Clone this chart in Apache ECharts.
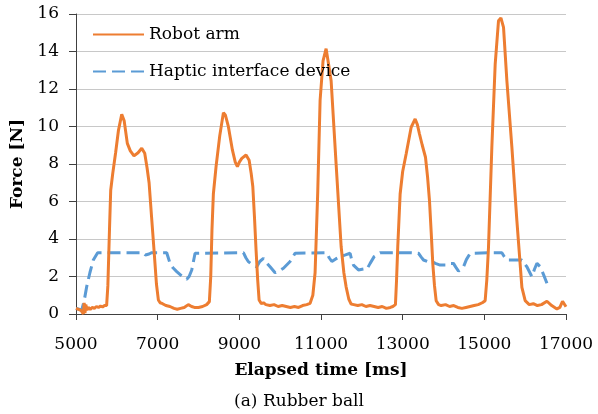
<!DOCTYPE html>
<html><head><meta charset="utf-8">
<script src="https://cdn.jsdelivr.net/npm/echarts@6/dist/echarts.min.js"></script>
<style>html,body{margin:0;padding:0;background:#fff}#c{width:598px;height:414px}</style>
</head><body><div id="c"></div>
<script>
const xTicks = [5000, 7000, 9000, 11000, 13000, 15000, 17000];
const yTicks = [0, 2, 4, 6, 8, 10, 12, 14, 16];
const seriesNames = ['Robot arm', 'Haptic interface device'];

const robotT = [5000,5060,5120,5160,5180,5200,5220,5240,5270,5300,5350,5400,5450,5500,5550,5600,5650,5700,5750,
5780,5820,5850,5900,5970,6040,6120,6180,6257,6330,6420,6520,6610,6683,6740,6790,6850,6911,6970,7017,
7060,7120,7200,7300,7400,7480,7560,7650,7750,7830,7900,8000,8100,8200,
8266,8300,8330,8364,8430,8520,8610,8660,8732,8830,8900,8953,9000,9060,9165,9240,9290,9330,9370,9410,9450,9484,
9540,9590,9650,9750,9850,9950,10050,10150,10250,10350,10450,10550,10650,10733,
10760,10800,10855,10920,10978,11050,11125,11180,11248,11370,11493,11560,11615,11680,11738,
11800,11900,12000,12100,12200,12300,12400,12500,12600,12700,12759,
12823,12850,12880,12938,13000,13085,13208,13306,13360,13412,13480,13559,13610,13657,13700,13738,13780,13820,
13880,13943,14050,14150,14250,14350,14450,14550,14650,14750,14850,14950,
15020,15060,15102,15184,15266,15347,15406,15470,15552,15675,15797,15920,16000,
16100,16200,16300,16400,16533,16650,16777,16850,16915,17000];
const robotF = [0.3,0.25,0.2,0.1,0.0,0.6,0.05,0.5,0.2,0.35,0.25,0.35,0.3,0.4,0.35,0.42,0.38,0.45,0.45,
1.5,4.5,6.6,7.5,8.6,9.8,10.65,10.3,9.1,8.7,8.43,8.6,8.84,8.57,7.8,7.0,5.2,3.4,1.6,0.75,
0.6,0.55,0.45,0.4,0.3,0.25,0.3,0.35,0.5,0.4,0.35,0.35,0.4,0.5,
0.66,2.0,4.5,6.4,7.86,9.5,10.74,10.6,9.99,8.75,8.1,7.86,8.1,8.3,8.48,8.2,7.5,6.8,5.2,3.4,1.8,0.75,
0.55,0.6,0.5,0.45,0.5,0.4,0.45,0.4,0.35,0.4,0.35,0.45,0.5,0.57,
0.6,1.0,2.2,6.5,11.4,13.5,14.15,13.4,12.44,8.0,3.6,2.2,1.45,0.8,0.53,
0.5,0.45,0.5,0.4,0.45,0.4,0.35,0.4,0.3,0.35,0.4,
0.5,1.8,3.6,6.4,7.6,8.53,9.96,10.4,10.1,9.6,9.0,8.36,7.3,6.04,4.3,2.67,1.5,0.71,
0.5,0.45,0.5,0.4,0.45,0.35,0.3,0.35,0.4,0.45,0.5,0.6,
0.71,1.8,3.56,8.89,13.33,15.64,15.79,15.29,12.44,8.89,4.98,1.42,0.71,
0.5,0.55,0.45,0.5,0.68,0.45,0.27,0.35,0.68,0.39];

const hapticT = [5000,5080,5140,5200,5262,5340,5424,5530,6650,6700,6732,6790,6855,7222,7260,7303,7380,7467,7600,7712,7770,7835,7916,7950,
9100,9160,9222,9330,9427,9500,9590,9680,9753,9876,9980,10080,10243,10365,10400,
11142,11200,11265,11370,11468,11600,11713,11750,11795,11917,12050,12122,12203,12301,12448,
13183,13387,13450,13510,13600,13714,13800,13918,14081,14170,14244,14300,14367,14430,14490,14560,14653,14700,
15184,15429,15490,15552,15715,15920,15980,16042,16165,16230,16288,16370,16450,16533];
const hapticF = [0.3,0.25,0.2,0.7,1.46,2.2,2.88,3.27,3.27,3.15,3.06,3.2,3.27,3.27,3.0,2.7,2.45,2.26,2.0,1.85,2.0,2.35,3.24,3.27,
3.27,3.0,2.79,2.6,2.52,2.8,2.97,2.7,2.52,2.2,2.3,2.44,2.8,3.24,3.27,
3.27,3.0,2.8,2.95,3.06,3.15,3.24,2.9,2.61,2.35,2.4,2.38,2.7,3.06,3.27,
3.27,3.24,3.05,2.88,2.8,2.8,2.7,2.61,2.61,2.7,2.7,2.5,2.29,2.4,2.52,2.9,3.24,3.27,
3.27,3.27,3.05,2.88,2.88,2.88,2.7,2.52,1.99,2.4,2.7,2.52,2.1,1.64];

const FONT = 'DejaVu Serif';
const pairs = (t, f) => t.map((v, i) => [v, f[i]]);

const chart = echarts.init(document.getElementById('c'), null, {renderer: 'canvas'});
chart.setOption({
  animation: false,
  backgroundColor: '#ffffff',
  grid: {left: 76, right: 32, top: 14, bottom: 100, containLabel: false},
  legend: {
    orient: 'vertical', left: 87, top: 21, itemWidth: 51, itemHeight: 14, itemGap: 20,
    itemStyle: {opacity: 0},
    textStyle: {fontFamily: FONT, fontSize: 17, color: '#000'},
    data: seriesNames
  },
  xAxis: {
    type: 'value', min: 5000, max: 17000,
    name: 'Elapsed time [ms]', nameLocation: 'middle', nameGap: 48,
    nameTextStyle: {fontFamily: FONT, fontSize: 17, fontWeight: 'bold', color: '#000'},
    axisLine: {show: true, lineStyle: {color: '#404040', width: 1}},
    axisTick: {show: true, length: 6, customValues: xTicks, lineStyle: {color: '#404040'}},
    axisLabel: {customValues: xTicks, margin: 22, fontFamily: FONT, fontSize: 17, color: '#000',
      formatter: v => String(v)},
    splitLine: {show: false}
  },
  yAxis: {
    type: 'value', min: 0, max: 16, interval: 2,
    name: 'Force [N]', nameLocation: 'middle', nameGap: 50,
    nameTextStyle: {fontFamily: FONT, fontSize: 17, fontWeight: 'bold', color: '#000'},
    axisLine: {show: true, lineStyle: {color: '#404040', width: 1}},
    axisTick: {show: true, length: 7, lineStyle: {color: '#404040'}},
    axisLabel: {margin: 17, fontFamily: FONT, fontSize: 17, color: '#000',
      formatter: v => yTicks.includes(v) ? String(v) : ''},
    splitLine: {show: true, lineStyle: {color: '#c8c8c8', width: 1}}
  },
  graphic: [{
    type: 'text', left: 'center', top: 393, z: 10,
    style: {text: '(a) Rubber ball', font: '17px "DejaVu Serif"', fill: '#000'}
  }],
  series: [
    {
      name: seriesNames[1], type: 'line', data: pairs(hapticT, hapticF), symbol: 'none', z: 2,
      lineStyle: {color: '#5B9BD5', width: 3, type: [13, 6]}, itemStyle: {color: '#5B9BD5'}
    },
    {
      name: seriesNames[0], type: 'line', data: pairs(robotT, robotF), symbol: 'none', z: 3,
      lineStyle: {color: '#ED7D31', width: 3}, itemStyle: {color: '#ED7D31'}
    }
  ]
});
</script></body></html>
